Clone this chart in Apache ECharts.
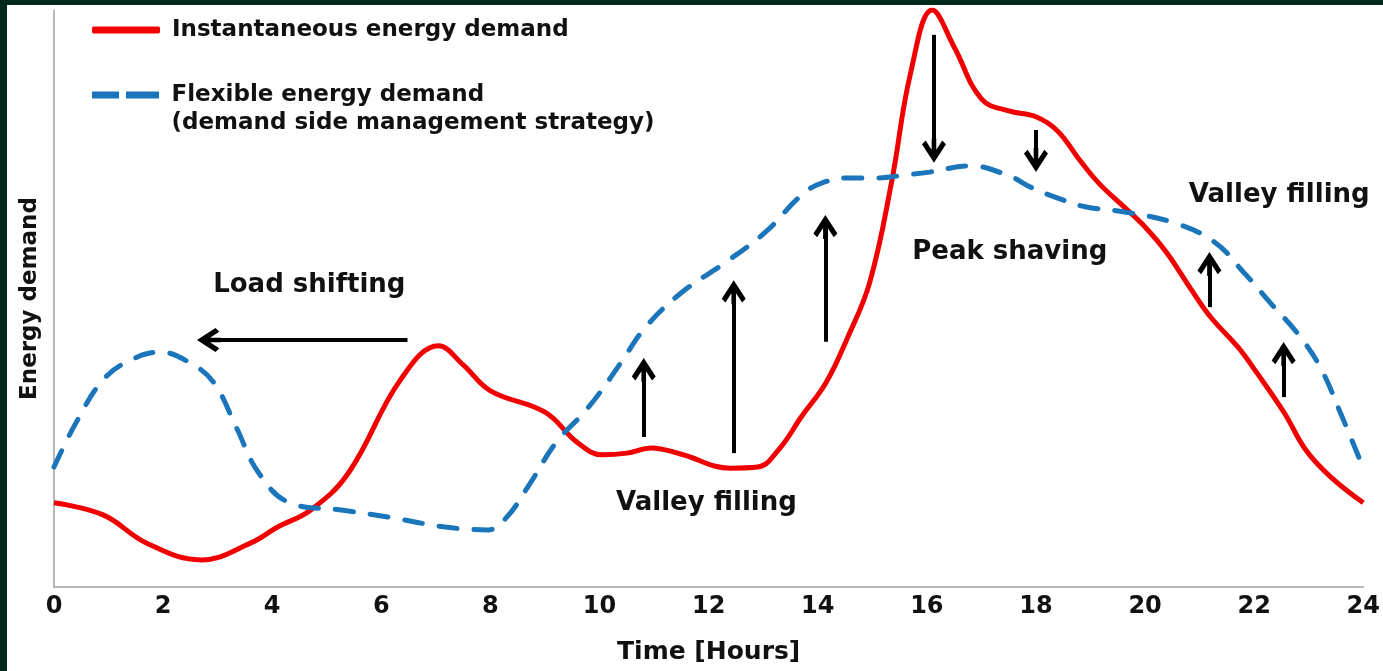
<!DOCTYPE html>
<html>
<head>
<meta charset="utf-8">
<title>Energy demand</title>
<script src="https://cdn.jsdelivr.net/npm/echarts@6/dist/echarts.min.js"></script>
<style>
  html, body { margin: 0; padding: 0; background: #022a1b; }
  #myChart {
    width: 1383px; height: 671px; box-sizing: border-box;
    border-top: 5px solid #022a1b; border-left: 7px solid #022a1b;
    background: #ffffff;
  }
</style>
</head>
<body>
<div id="myChart"></div>
<script>
  // hours / values
  var instantHours = [0, 0.9, 1.7, 2.7, 3.6, 4.1, 4.7, 5.4, 6.35, 7.05, 7.5, 8, 9, 9.6, 10.05, 10.5, 10.95, 11.5, 12.4, 12.9,
    13.3, 13.7, 14.15, 14.55, 14.95, 15.35, 15.7, 16.1, 16.5, 17, 17.5, 18, 18.4, 18.8, 19.15, 19.6, 20, 20.4, 20.85, 21.2,
    21.7, 22.05, 22.55, 22.95, 23.4, 24]
  var instantDemand = [14.6, 12.5, 7.6, 4.7, 7.6, 10.4, 13.3, 19.8, 35.9, 41.8, 38.5, 34.0, 30.3, 25.0, 22.9, 23.2, 24.1, 23.0, 20.6, 20.8,
    24.0, 29.5, 35.4, 43.3, 52.7, 70.0, 89.0, 100, 93.6, 84.6, 82.5, 81.5, 79.0, 74.0, 70.0, 66.0, 62.4, 57.9, 51.5, 46.8,
    41.6, 37.1, 30.2, 23.7, 19.1, 14.6]

  var flexHours = [0, 0.4, 0.9, 1.4, 1.95, 2.5, 2.93, 3.34, 3.75, 4.32, 5.3, 6.2, 7.17, 7.96, 8.3, 8.73, 9.2, 9.71, 10.0, 10.4,
    10.85, 11.5, 12.3, 13.04, 13.7, 14.07, 14.6, 15.1, 15.6, 16.05, 16.8, 17.5, 17.9, 18.4, 18.9, 19.63, 20.54, 21.27, 21.82, 22.3,
    22.79, 23.21, 23.58, 24]
  var flexDemand = [20.8, 28.4, 35.9, 39.3, 40.7, 38.8, 35.4, 27.7, 19.8, 14.6, 13.3, 12.0, 10.4, 9.9, 12.1, 18.0, 25.0, 30.2, 33.6, 39.0,
    45.1, 51.0, 56.2, 61.5, 67.9, 70.0, 70.9, 70.9, 71.4, 71.9, 73.0, 71.3, 69.3, 67.4, 65.9, 65.0, 63.1, 59.8, 54.4, 49.2,
    44.0, 38.1, 30.2, 20.6]

  var xTicks = [0, 2, 4, 6, 8, 10, 12, 14, 16, 18, 20, 22, 24]

  // arrows: [fromHour, fromValue, toHour, toValue]
  var arrows = [
    [6.48, 42.8, 2.84, 42.8],
    [10.81, 26.0, 10.81, 37.6],
    [12.46, 23.2, 12.46, 51.1],
    [14.14, 42.5, 14.14, 62.4],
    [16.13, 95.7, 16.13, 75.6],
    [18.0, 79.2, 18.0, 74.0],
    [21.18, 48.5, 21.18, 56.0],
    [22.54, 32.9, 22.54, 40.4]
  ]

  var notes = ['Load shifting', 'Valley filling', 'Peak shaving', 'Valley filling']
  var noteHours = [4.68, 11.96, 17.52, 22.46]
  var noteValues = [52.3, 14.6, 58.1, 67.9]

  var font = 'DejaVu Sans'
  var chevron = 'path://M0,0 L13,17 L9,20.5 L2.5,12 L2.5,22 L-2.5,22 L-2.5,12 L-9,20.5 L-13,17 Z'
  var dashIcon = 'path://M0,0 L27,0 L27,7 L0,7 Z M34,0 L67,0 L67,7 L34,7 Z'

  function pairs(xs, ys) {
    return xs.map(function (x, i) { return [x, ys[i]] })
  }

  var myChart = echarts.init(document.getElementById('myChart'))
  var legendText = { fontFamily: font, fontSize: 23, fontWeight: 'bold', color: '#111', lineHeight: 28, padding: [0, 0, 0, 7] }
  var option = {
    animation: false,
    textStyle: { fontFamily: font },
    legend: [
      {
        data: ['Instantaneous energy demand'],
        left: 85, top: 11, padding: 0,
        icon: 'roundRect', itemWidth: 68, itemHeight: 7,
        textStyle: legendText
      },
      {
        data: ['Flexible energy demand'],
        left: 85, top: 48, padding: 0,
        icon: dashIcon, itemWidth: 68, itemHeight: 7,
        formatter: function (name) { return '\n' + name + '\n(demand side management strategy)' },
        textStyle: legendText
      }
    ],
    grid: { left: 47, right: 17, top: 5, bottom: 84 },
    xAxis: {
      type: 'value',
      min: xTicks[0], max: xTicks[xTicks.length - 1], interval: 2,
      name: 'Time [Hours]', nameLocation: 'middle', nameGap: 53,
      nameTextStyle: { fontFamily: font, fontSize: 25, fontWeight: 'bold', color: '#111' },
      axisLine: { lineStyle: { color: '#a0a0a0', width: 1.5 } },
      axisTick: { show: false },
      splitLine: { show: false },
      axisLabel: { fontFamily: font, fontSize: 24, fontWeight: 'bold', color: '#111', margin: 8 }
    },
    yAxis: {
      type: 'value', min: 0, max: 100,
      name: 'Energy demand', nameLocation: 'middle', nameGap: 12,
      nameTextStyle: { fontFamily: font, fontSize: 23, fontWeight: 'bold', color: '#111' },
      axisLine: { show: true, lineStyle: { color: '#a0a0a0', width: 1.5 } },
      axisTick: { show: false },
      axisLabel: { show: false },
      splitLine: { show: false }
    },
    series: [
      {
        name: 'Instantaneous energy demand',
        type: 'line',
        smooth: 0.4,
        symbol: 'none',
        color: '#f00000',
        lineStyle: { color: '#f00000', width: 5 },
        data: pairs(instantHours, instantDemand),
        markLine: {
          silent: true,
          symbol: ['none', chevron],
          symbolSize: 24,
          label: { show: false },
          lineStyle: { color: '#000', width: 4, type: 'solid' },
          data: arrows.map(function (a) {
            return [{ coord: [a[0], a[1]] }, { coord: [a[2], a[3]] }]
          })
        }
      },
      {
        name: 'Flexible energy demand',
        type: 'line',
        smooth: 0.4,
        symbol: 'none',
        color: '#1b75bb',
        lineStyle: { color: '#1b75bb', width: 5, type: [18, 17], cap: 'round' },
        data: pairs(flexHours, flexDemand),
        markPoint: {
          silent: true,
          symbol: 'rect',
          symbolSize: 1,
          itemStyle: { color: 'rgba(0,0,0,0)' },
          label: {
            show: true, position: 'inside', formatter: '{b}',
            fontFamily: font, fontSize: 26, fontWeight: 'bold', color: '#111'
          },
          data: notes.map(function (t, i) {
            return { name: t, coord: [noteHours[i], noteValues[i]] }
          })
        }
      }
    ]
  }
  myChart.setOption(option)
</script>
</body>
</html>
